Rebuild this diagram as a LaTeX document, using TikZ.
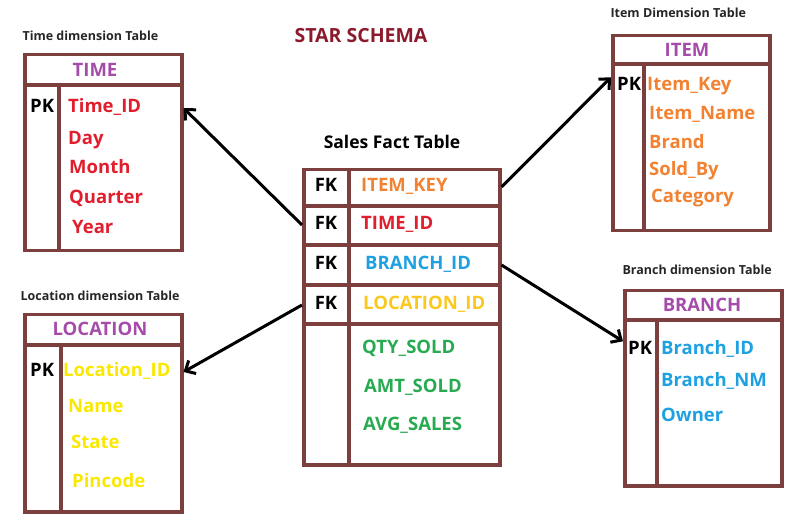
\documentclass[tikz,border=0pt]{standalone}
\usepackage{fontspec}
\setmainfont{Open Sans}
\usetikzlibrary{arrows.meta}
\definecolor{frame}{RGB}{125,62,62}
\definecolor{titlecol}{RGB}{140,26,45}
\definecolor{headcol}{RGB}{165,75,170}
\definecolor{timecol}{RGB}{225,30,45}
\definecolor{itemcol}{RGB}{242,130,50}
\definecolor{loccol}{RGB}{250,232,0}
\definecolor{goldcol}{RGB}{250,200,30}
\definecolor{brcol}{RGB}{30,160,225}
\definecolor{factcol}{RGB}{40,170,80}

\begin{document}
\begin{tikzpicture}[x=1pt,y=-1pt,
  box/.style={draw=frame,line width=3.5pt,inner sep=0pt,anchor=north west},
  rule/.style={draw=frame,line width=3.5pt},
  caption/.style={font=\bfseries\fontsize{12.5}{14}\selectfont,text=black!85,anchor=west},
  head/.style={font=\bfseries\fontsize{18.5}{20}\selectfont,text=headcol},
  key/.style={font=\bfseries\fontsize{18.5}{20}\selectfont,anchor=west,text height=13pt,text depth=4pt,inner sep=0pt},
  field/.style={key,text=#1},
  link/.style={-{Straight Barb[length=8pt,width=15pt]},line width=3pt}]
\useasboundingbox (0,0) rectangle (798,518);

\node[font=\bfseries\fontsize{19.5}{22}\selectfont,text=titlecol] (title) at (361,36) {STAR SCHEMA};

% time dimension
\node[caption] (timecap) at (19,36) {Time dimension Table};
\node[box,minimum width=157pt,minimum height=196pt] (time) at (23,53) {};
\draw[rule] (time.west |- 0,85) -- (time.east |- 0,85);
\draw[rule] (59,85) -- (59,249);
\node[head] (timehead) at (95,70) {TIME};
\node[key] (timepk) at (30,108) {PK};
\node[field=timecol] (timeid) at (68,108) {Time\_ID};
\node[field=timecol] (day) at (68,140) {Day};
\node[field=timecol] (month) at (69,169) {Month};
\node[field=timecol] (quarter) at (69,199) {Quarter};
\node[field=timecol] (year) at (72,229) {Year};

% location dimension
\node[caption] (loccap) at (17,296) {Location dimension Table};
\node[box,minimum width=157pt,minimum height=197pt] (loc) at (23,313) {};
\draw[rule] (loc.west |- 0,345) -- (loc.east |- 0,345);
\draw[rule] (61,345) -- (61,510);
\node[head] (lochead) at (100,329) {LOCATION};
\node[key] (locpk) at (30,372) {PK};
\node[field=loccol] (locid) at (63,372) {Location\_ID};
\node[field=loccol] (name) at (68,408) {Name};
\node[field=loccol] (state) at (71,444) {State};
\node[field=loccol] (pincode) at (72,483) {Pincode};

% sales fact
\node[font=\bfseries\fontsize{17.5}{20}\selectfont] (factcap) at (392,142) {Sales Fact Table};
\node[box,minimum width=196pt,minimum height=295pt] (fact) at (302,168) {};
\foreach \y in {206,245,285,324}
  \draw[rule] (fact.west |- 0,\y) -- (fact.east |- 0,\y);
\draw[rule] (349,168) -- (349,463);
\foreach \y in {187,225,265,305}
  \node[key,anchor=center] at (326,\y) {FK};
\node[field=itemcol] (fitem) at (361,187) {ITEM\_KEY};
\node[field=timecol] (ftime) at (361,225) {TIME\_ID};
\node[field=brcol] (fbranch) at (365,265) {BRANCH\_ID};
\node[field=goldcol] (floc) at (363,305) {LOCATION\_ID};
\node[field=factcol] (qty) at (362,349) {QTY\_SOLD};
\node[field=factcol] (amt) at (364,388) {AMT\_SOLD};
\node[field=factcol] (avg) at (363,426) {AVG\_SALES};

% item dimension
\node[caption] (itemcap) at (607,13) {Item Dimension Table};
\node[box,minimum width=157pt,minimum height=195pt] (item) at (611,34) {};
\draw[rule] (item.west |- 0,64) -- (item.east |- 0,64);
\draw[rule] (644,64) -- (644,229);
\node[head] (itemhead) at (687,50) {ITEM};
\node[key] (itempk) at (617,86) {PK};
\node[field=itemcol] (itemkey) at (647,86) {Item\_Key};
\node[field=itemcol] (itemname) at (649,115) {Item\_Name};
\node[field=itemcol] (brand) at (649,144) {Brand};
\node[field=itemcol] (soldby) at (649,171) {Sold\_By};
\node[field=itemcol] (category) at (651,198) {Category};

% branch dimension
\node[caption] (brcap) at (619,270) {Branch dimension Table};
\node[box,minimum width=157pt,minimum height=195pt] (branch) at (623,289) {};
\draw[rule] (branch.west |- 0,320) -- (branch.east |- 0,320);
\draw[rule] (657,320) -- (657,484);
\node[head] (brhead) at (702,305) {BRANCH};
\node[key] (brpk) at (628,350) {PK};
\node[field=brcol] (brid) at (661,350) {Branch\_ID};
\node[field=brcol] (brnm) at (661,382) {Branch\_NM};
\node[field=brcol] (owner) at (661,417) {Owner};

\draw[link] (fact.west |- ftime) -- (time.east |- timeid);
\draw[link] (fact.west |- floc) -- (loc.east |- locid);
\draw[link] (fact.east |- fitem) -- (item.west |- itemkey.north);
\draw[link] (fact.east |- fbranch) -- (branch.west |- brid.north);
\end{tikzpicture}
\end{document}
